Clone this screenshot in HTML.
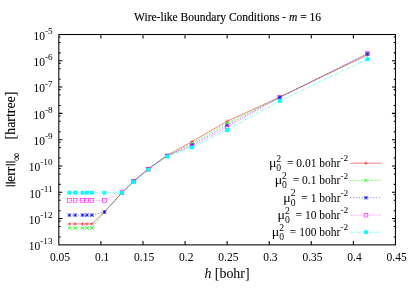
<!DOCTYPE html>
<html><head><meta charset="utf-8"><title>plot</title>
<style>
html,body{margin:0;padding:0;background:#fff;}
body{width:415px;height:291px;overflow:hidden;}
svg{display:block;will-change:transform;}
text{font-family:"Liberation Serif",serif;fill:#000;}
.t{font-size:11.53px;}
.tt{stroke:#000;stroke-width:0.14px;}
.l{font-size:13.9px;}
.s{font-size:9.22px;}
.sl{font-size:11.12px;}
.i{font-style:italic;}
</style></head><body>
<svg width="415" height="291" viewBox="0 0 415 291">

<path d="M58.82 236.96h1.75M395.45 236.96h-1.75M58.82 226.50h1.75M395.45 226.50h-1.75M58.82 221.13h1.75M395.45 221.13h-1.75M58.82 218.58h3.5M395.45 218.58h-3.5M58.82 210.67h1.75M395.45 210.67h-1.75M58.82 200.20h1.75M395.45 200.20h-1.75M58.82 194.83h1.75M395.45 194.83h-1.75M58.82 192.28h3.5M395.45 192.28h-3.5M58.82 184.37h1.75M395.45 184.37h-1.75M58.82 173.90h1.75M395.45 173.90h-1.75M58.82 168.54h1.75M395.45 168.54h-1.75M58.82 165.99h3.5M395.45 165.99h-3.5M58.82 158.07h1.75M395.45 158.07h-1.75M58.82 147.61h1.75M395.45 147.61h-1.75M58.82 142.24h1.75M395.45 142.24h-1.75M58.82 139.69h3.5M395.45 139.69h-3.5M58.82 131.77h1.75M395.45 131.77h-1.75M58.82 121.31h1.75M395.45 121.31h-1.75M58.82 115.94h1.75M395.45 115.94h-1.75M58.82 113.39h3.5M395.45 113.39h-3.5M58.82 105.48h1.75M395.45 105.48h-1.75M58.82 95.01h1.75M395.45 95.01h-1.75M58.82 89.64h1.75M395.45 89.64h-1.75M58.82 87.09h3.5M395.45 87.09h-3.5M58.82 79.18h1.75M395.45 79.18h-1.75M58.82 68.71h1.75M395.45 68.71h-1.75M58.82 63.35h1.75M395.45 63.35h-1.75M58.82 60.80h3.5M395.45 60.80h-3.5M58.82 52.88h1.75M395.45 52.88h-1.75M58.82 42.42h1.75M395.45 42.42h-1.75M58.82 37.05h1.75M395.45 37.05h-1.75M100.90 244.88v-3.9M100.90 34.5v3.9M142.98 244.88v-3.9M142.98 34.5v3.9M185.06 244.88v-3.9M185.06 34.5v3.9M227.13 244.88v-3.9M227.13 34.5v3.9M269.21 244.88v-3.9M269.21 34.5v3.9M311.29 244.88v-3.9M311.29 34.5v3.9M353.37 244.88v-3.9M353.37 34.5v3.9" stroke="#000" stroke-width="1.05" fill="none"/>
<rect x="58.82" y="34.5" width="336.63" height="210.38" fill="none" stroke="#000" stroke-width="1.05"/>
<text class="t" x="52.6" y="250.18" text-anchor="end">10<tspan class="s" dy="-5.8">-13</tspan></text>
<text class="t" x="52.6" y="223.88" text-anchor="end">10<tspan class="s" dy="-5.8">-12</tspan></text>
<text class="t" x="52.6" y="197.59" text-anchor="end">10<tspan class="s" dy="-5.8">-11</tspan></text>
<text class="t" x="52.6" y="171.29" text-anchor="end">10<tspan class="s" dy="-5.8">-10</tspan></text>
<text class="t" x="52.6" y="144.99" text-anchor="end">10<tspan class="s" dy="-5.8">-9</tspan></text>
<text class="t" x="52.6" y="118.69" text-anchor="end">10<tspan class="s" dy="-5.8">-8</tspan></text>
<text class="t" x="52.6" y="92.39" text-anchor="end">10<tspan class="s" dy="-5.8">-7</tspan></text>
<text class="t" x="52.6" y="66.10" text-anchor="end">10<tspan class="s" dy="-5.8">-6</tspan></text>
<text class="t" x="52.6" y="39.80" text-anchor="end">10<tspan class="s" dy="-5.8">-5</tspan></text>
<text class="t" x="60.02" y="260.6" text-anchor="middle">0.05</text>
<text class="t" x="102.10" y="260.6" text-anchor="middle">0.1</text>
<text class="t" x="144.18" y="260.6" text-anchor="middle">0.15</text>
<text class="t" x="186.26" y="260.6" text-anchor="middle">0.2</text>
<text class="t" x="228.33" y="260.6" text-anchor="middle">0.25</text>
<text class="t" x="270.41" y="260.6" text-anchor="middle">0.3</text>
<text class="t" x="312.49" y="260.6" text-anchor="middle">0.35</text>
<text class="t" x="354.57" y="260.6" text-anchor="middle">0.4</text>
<text class="t" x="396.65" y="260.6" text-anchor="middle">0.45</text>
<text class="t tt" x="227.6" y="21.2" text-anchor="middle">Wire-like Boundary Conditions - <tspan class="i">m</tspan> = 16</text>
<text class="l" x="227.0" y="278.3" text-anchor="middle"><tspan class="i">h</tspan> [bohr]</text>
<g transform="translate(15.2,187.1) rotate(-90)" stroke="#000" stroke-width="0.12"><path d="M1.39 0.2V-9.40M4.17 0.2V-9.40M22.38 0.2V-9.40M25.16 0.2V-9.40" stroke="#000" stroke-width="1.12" fill="none"/><text class="l" x="5.16" y="0">err</text><text class="sl" transform="translate(26.06,4.4) scale(1.06,1)">&#8734;</text><text class="l" x="47.7" y="0">[hartree]</text></g>
<path d="M69.34 223.95L75.18 223.95L82.49 223.95L86.87 223.95L91.88 223.95L104.41 212.00L121.94 192.80L133.63 181.05L148.24 168.75L167.02 155.45L192.07 141.50L227.13 121.20L279.73 97.10L367.40 55.00" stroke="#ff0000" stroke-width="0.5" fill="none"/>
<path d="M67.49 223.95H71.19M69.34 222.10V225.80" stroke="#ff0000" stroke-width="0.52" fill="none"/>
<path d="M73.33 223.95H77.03M75.18 222.10V225.80" stroke="#ff0000" stroke-width="0.52" fill="none"/>
<path d="M80.64 223.95H84.34M82.49 222.10V225.80" stroke="#ff0000" stroke-width="0.52" fill="none"/>
<path d="M85.02 223.95H88.72M86.87 222.10V225.80" stroke="#ff0000" stroke-width="0.52" fill="none"/>
<path d="M90.03 223.95H93.73M91.88 222.10V225.80" stroke="#ff0000" stroke-width="0.52" fill="none"/>
<path d="M102.56 212.00H106.26M104.41 210.15V213.85" stroke="#ff0000" stroke-width="0.52" fill="none"/>
<path d="M120.09 192.80H123.79M121.94 190.95V194.65" stroke="#ff0000" stroke-width="0.52" fill="none"/>
<path d="M131.78 181.05H135.48M133.63 179.20V182.90" stroke="#ff0000" stroke-width="0.52" fill="none"/>
<path d="M146.39 168.75H150.09M148.24 166.90V170.60" stroke="#ff0000" stroke-width="0.52" fill="none"/>
<path d="M165.17 155.45H168.87M167.02 153.60V157.30" stroke="#ff0000" stroke-width="0.52" fill="none"/>
<path d="M190.22 141.50H193.92M192.07 139.65V143.35" stroke="#ff0000" stroke-width="0.52" fill="none"/>
<path d="M225.28 121.20H228.98M227.13 119.35V123.05" stroke="#ff0000" stroke-width="0.52" fill="none"/>
<path d="M277.88 97.10H281.58M279.73 95.25V98.95" stroke="#ff0000" stroke-width="0.52" fill="none"/>
<path d="M365.55 55.00H369.25M367.40 53.15V56.85" stroke="#ff0000" stroke-width="0.52" fill="none"/>
<path d="M69.34 228.00L75.18 228.00L82.49 228.00L86.87 228.00L91.88 228.00L104.41 212.00L121.94 192.80L133.63 181.25L148.24 168.95L167.02 155.65L192.07 143.30L227.13 123.10L279.73 97.10L367.40 54.20" stroke="#00ff00" stroke-width="0.5" fill="none" stroke-dasharray="2.3 1.15"/>
<path d="M67.56 226.22L71.12 229.78M67.56 229.78L71.12 226.22" stroke="#00ff00" stroke-width="0.75" fill="none"/>
<path d="M73.40 226.22L76.96 229.78M73.40 229.78L76.96 226.22" stroke="#00ff00" stroke-width="0.75" fill="none"/>
<path d="M80.71 226.22L84.27 229.78M80.71 229.78L84.27 226.22" stroke="#00ff00" stroke-width="0.75" fill="none"/>
<path d="M85.09 226.22L88.65 229.78M85.09 229.78L88.65 226.22" stroke="#00ff00" stroke-width="0.75" fill="none"/>
<path d="M90.10 226.22L93.66 229.78M90.10 229.78L93.66 226.22" stroke="#00ff00" stroke-width="0.75" fill="none"/>
<path d="M102.63 210.22L106.19 213.78M102.63 213.78L106.19 210.22" stroke="#00ff00" stroke-width="0.75" fill="none"/>
<path d="M120.16 191.02L123.72 194.58M120.16 194.58L123.72 191.02" stroke="#00ff00" stroke-width="0.75" fill="none"/>
<path d="M131.85 179.47L135.41 183.03M131.85 183.03L135.41 179.47" stroke="#00ff00" stroke-width="0.75" fill="none"/>
<path d="M146.46 167.17L150.02 170.73M146.46 170.73L150.02 167.17" stroke="#00ff00" stroke-width="0.75" fill="none"/>
<path d="M165.24 153.87L168.80 157.43M165.24 157.43L168.80 153.87" stroke="#00ff00" stroke-width="0.75" fill="none"/>
<path d="M190.29 141.52L193.85 145.08M190.29 145.08L193.85 141.52" stroke="#00ff00" stroke-width="0.75" fill="none"/>
<path d="M225.35 121.32L228.91 124.88M225.35 124.88L228.91 121.32" stroke="#00ff00" stroke-width="0.75" fill="none"/>
<path d="M277.95 95.32L281.51 98.88M277.95 98.88L281.51 95.32" stroke="#00ff00" stroke-width="0.75" fill="none"/>
<path d="M365.62 52.42L369.18 55.98M365.62 55.98L369.18 52.42" stroke="#00ff00" stroke-width="0.75" fill="none"/>
<path d="M69.34 215.10L75.18 215.10L82.49 215.10L86.87 215.10L91.88 215.10L104.41 212.00L121.94 192.80L133.63 181.40L148.24 169.10L167.02 155.80L192.07 144.80L227.13 125.30L279.73 97.30L367.40 53.70" stroke="#0000ff" stroke-width="0.5" fill="none" stroke-dasharray="1.15 1.73"/>
<path d="M67.56 215.10H71.12M69.34 213.32V216.88M67.56 213.32L71.12 216.88M67.56 216.88L71.12 213.32" stroke="#0000ff" stroke-width="0.68" fill="none"/>
<path d="M73.40 215.10H76.96M75.18 213.32V216.88M73.40 213.32L76.96 216.88M73.40 216.88L76.96 213.32" stroke="#0000ff" stroke-width="0.68" fill="none"/>
<path d="M80.71 215.10H84.27M82.49 213.32V216.88M80.71 213.32L84.27 216.88M80.71 216.88L84.27 213.32" stroke="#0000ff" stroke-width="0.68" fill="none"/>
<path d="M85.09 215.10H88.65M86.87 213.32V216.88M85.09 213.32L88.65 216.88M85.09 216.88L88.65 213.32" stroke="#0000ff" stroke-width="0.68" fill="none"/>
<path d="M90.10 215.10H93.66M91.88 213.32V216.88M90.10 213.32L93.66 216.88M90.10 216.88L93.66 213.32" stroke="#0000ff" stroke-width="0.68" fill="none"/>
<path d="M102.63 212.00H106.19M104.41 210.22V213.78M102.63 210.22L106.19 213.78M102.63 213.78L106.19 210.22" stroke="#0000ff" stroke-width="0.68" fill="none"/>
<path d="M120.16 192.80H123.72M121.94 191.02V194.58M120.16 191.02L123.72 194.58M120.16 194.58L123.72 191.02" stroke="#0000ff" stroke-width="0.68" fill="none"/>
<path d="M131.85 181.40H135.41M133.63 179.62V183.18M131.85 179.62L135.41 183.18M131.85 183.18L135.41 179.62" stroke="#0000ff" stroke-width="0.68" fill="none"/>
<path d="M146.46 169.10H150.02M148.24 167.32V170.88M146.46 167.32L150.02 170.88M146.46 170.88L150.02 167.32" stroke="#0000ff" stroke-width="0.68" fill="none"/>
<path d="M165.24 155.80H168.80M167.02 154.02V157.58M165.24 154.02L168.80 157.58M165.24 157.58L168.80 154.02" stroke="#0000ff" stroke-width="0.68" fill="none"/>
<path d="M190.29 144.80H193.85M192.07 143.02V146.58M190.29 143.02L193.85 146.58M190.29 146.58L193.85 143.02" stroke="#0000ff" stroke-width="0.68" fill="none"/>
<path d="M225.35 125.30H228.91M227.13 123.52V127.08M225.35 123.52L228.91 127.08M225.35 127.08L228.91 123.52" stroke="#0000ff" stroke-width="0.68" fill="none"/>
<path d="M277.95 97.30H281.51M279.73 95.52V99.08M277.95 95.52L281.51 99.08M277.95 99.08L281.51 95.52" stroke="#0000ff" stroke-width="0.68" fill="none"/>
<path d="M365.62 53.70H369.18M367.40 51.92V55.48M365.62 51.92L369.18 55.48M365.62 55.48L369.18 51.92" stroke="#0000ff" stroke-width="0.68" fill="none"/>
<path d="M69.34 200.40L75.18 200.40L82.49 200.40L86.87 200.40L91.88 200.40L104.41 200.40L121.94 192.60L133.63 181.52L148.24 169.22L167.02 155.92L192.07 146.00L227.13 127.00L279.73 97.60L367.40 53.60" stroke="#ff00ff" stroke-width="0.5" fill="none" stroke-dasharray="2.1 0.78" stroke-opacity="0.62"/>
<rect x="67.49" y="198.55" width="3.70" height="3.70" stroke="#ff00ff" stroke-width="0.58" fill="none"/>
<rect x="73.33" y="198.55" width="3.70" height="3.70" stroke="#ff00ff" stroke-width="0.58" fill="none"/>
<rect x="80.64" y="198.55" width="3.70" height="3.70" stroke="#ff00ff" stroke-width="0.58" fill="none"/>
<rect x="85.02" y="198.55" width="3.70" height="3.70" stroke="#ff00ff" stroke-width="0.58" fill="none"/>
<rect x="90.03" y="198.55" width="3.70" height="3.70" stroke="#ff00ff" stroke-width="0.58" fill="none"/>
<rect x="102.56" y="198.55" width="3.70" height="3.70" stroke="#ff00ff" stroke-width="0.58" fill="none"/>
<rect x="120.09" y="190.75" width="3.70" height="3.70" stroke="#ff00ff" stroke-width="0.58" fill="none"/>
<rect x="131.78" y="179.67" width="3.70" height="3.70" stroke="#ff00ff" stroke-width="0.58" fill="none"/>
<rect x="146.39" y="167.37" width="3.70" height="3.70" stroke="#ff00ff" stroke-width="0.58" fill="none"/>
<rect x="165.17" y="154.07" width="3.70" height="3.70" stroke="#ff00ff" stroke-width="0.58" fill="none"/>
<rect x="190.22" y="144.15" width="3.70" height="3.70" stroke="#ff00ff" stroke-width="0.58" fill="none"/>
<rect x="225.28" y="125.15" width="3.70" height="3.70" stroke="#ff00ff" stroke-width="0.58" fill="none"/>
<rect x="277.88" y="95.75" width="3.70" height="3.70" stroke="#ff00ff" stroke-width="0.58" fill="none"/>
<rect x="365.55" y="51.75" width="3.70" height="3.70" stroke="#ff00ff" stroke-width="0.58" fill="none"/>
<path d="M69.34 192.70L75.18 192.70L82.49 192.70L86.87 192.70L91.88 192.70L104.41 192.70L121.94 192.90L133.63 182.15L148.24 169.85L167.02 156.55L192.07 147.40L227.13 130.10L279.73 101.00L367.40 59.20" stroke="#00ffff" stroke-width="0.5" fill="none" stroke-dasharray="3.46 1.15 0.58 1.15"/>
<rect x="67.44" y="190.80" width="3.80" height="3.80" fill="#00ffff"/>
<rect x="73.28" y="190.80" width="3.80" height="3.80" fill="#00ffff"/>
<rect x="80.59" y="190.80" width="3.80" height="3.80" fill="#00ffff"/>
<rect x="84.97" y="190.80" width="3.80" height="3.80" fill="#00ffff"/>
<rect x="89.98" y="190.80" width="3.80" height="3.80" fill="#00ffff"/>
<rect x="102.51" y="190.80" width="3.80" height="3.80" fill="#00ffff"/>
<rect x="120.04" y="191.00" width="3.80" height="3.80" fill="#00ffff"/>
<rect x="131.73" y="180.25" width="3.80" height="3.80" fill="#00ffff"/>
<rect x="146.34" y="167.95" width="3.80" height="3.80" fill="#00ffff"/>
<rect x="165.12" y="154.65" width="3.80" height="3.80" fill="#00ffff"/>
<rect x="190.17" y="145.50" width="3.80" height="3.80" fill="#00ffff"/>
<rect x="225.23" y="128.20" width="3.80" height="3.80" fill="#00ffff"/>
<rect x="277.83" y="99.10" width="3.80" height="3.80" fill="#00ffff"/>
<rect x="365.50" y="57.30" width="3.80" height="3.80" fill="#00ffff"/>
<path d="M350.2 163.18H381.7" stroke="#ff0000" stroke-width="0.5" fill="none"/>
<path d="M364.15 163.18H367.85M366.00 161.33V165.03" stroke="#ff0000" stroke-width="0.52" fill="none"/>
<text class="t" x="286.94" y="167.05">= 0.01 bohr<tspan class="s" dy="-5.8">-2</tspan></text>
<text transform="translate(268.89,167.05) scale(1.12,1)" font-size="12.5">&#956;</text>
<text class="s" style="font-size:9.7px" x="276.34" y="161.60">2</text>
<text class="s" style="font-size:9.7px" x="276.34" y="171.00">0</text>
<path d="M350.2 180.40H381.7" stroke="#00ff00" stroke-width="0.5" fill="none" stroke-dasharray="2.3 1.15"/>
<path d="M364.22 178.62L367.78 182.18M364.22 182.18L367.78 178.62" stroke="#00ff00" stroke-width="0.75" fill="none"/>
<text class="t" x="292.70" y="184.35">= 0.1 bohr<tspan class="s" dy="-5.8">-2</tspan></text>
<text transform="translate(274.65,184.35) scale(1.12,1)" font-size="12.5">&#956;</text>
<text class="s" style="font-size:9.7px" x="282.10" y="178.90">2</text>
<text class="s" style="font-size:9.7px" x="282.10" y="188.30">0</text>
<path d="M350.2 197.75H381.7" stroke="#0000ff" stroke-width="0.5" fill="none" stroke-dasharray="1.15 1.73"/>
<path d="M364.22 197.75H367.78M366.00 195.97V199.53M364.22 195.97L367.78 199.53M364.22 199.53L367.78 195.97" stroke="#0000ff" stroke-width="0.68" fill="none"/>
<text class="t" x="301.35" y="201.65">= 1 bohr<tspan class="s" dy="-5.8">-2</tspan></text>
<text transform="translate(283.30,201.65) scale(1.12,1)" font-size="12.5">&#956;</text>
<text class="s" style="font-size:9.7px" x="290.75" y="196.20">2</text>
<text class="s" style="font-size:9.7px" x="290.75" y="205.60">0</text>
<path d="M350.2 215.15H381.7" stroke="#ff00ff" stroke-width="0.5" fill="none" stroke-dasharray="2.1 0.78" stroke-opacity="0.62"/>
<rect x="364.15" y="213.30" width="3.70" height="3.70" stroke="#ff00ff" stroke-width="0.58" fill="none"/>
<text class="t" x="295.58" y="218.95">= 10 bohr<tspan class="s" dy="-5.8">-2</tspan></text>
<text transform="translate(277.53,218.95) scale(1.12,1)" font-size="12.5">&#956;</text>
<text class="s" style="font-size:9.7px" x="284.98" y="213.50">2</text>
<text class="s" style="font-size:9.7px" x="284.98" y="222.90">0</text>
<path d="M350.2 232.20H381.7" stroke="#00ffff" stroke-width="0.5" fill="none" stroke-dasharray="3.46 1.15 0.58 1.15"/>
<rect x="364.10" y="230.30" width="3.80" height="3.80" fill="#00ffff"/>
<text class="t" x="289.82" y="236.25">= 100 bohr<tspan class="s" dy="-5.8">-2</tspan></text>
<text transform="translate(271.77,236.25) scale(1.12,1)" font-size="12.5">&#956;</text>
<text class="s" style="font-size:9.7px" x="279.22" y="230.80">2</text>
<text class="s" style="font-size:9.7px" x="279.22" y="240.20">0</text>
</svg></body></html>
